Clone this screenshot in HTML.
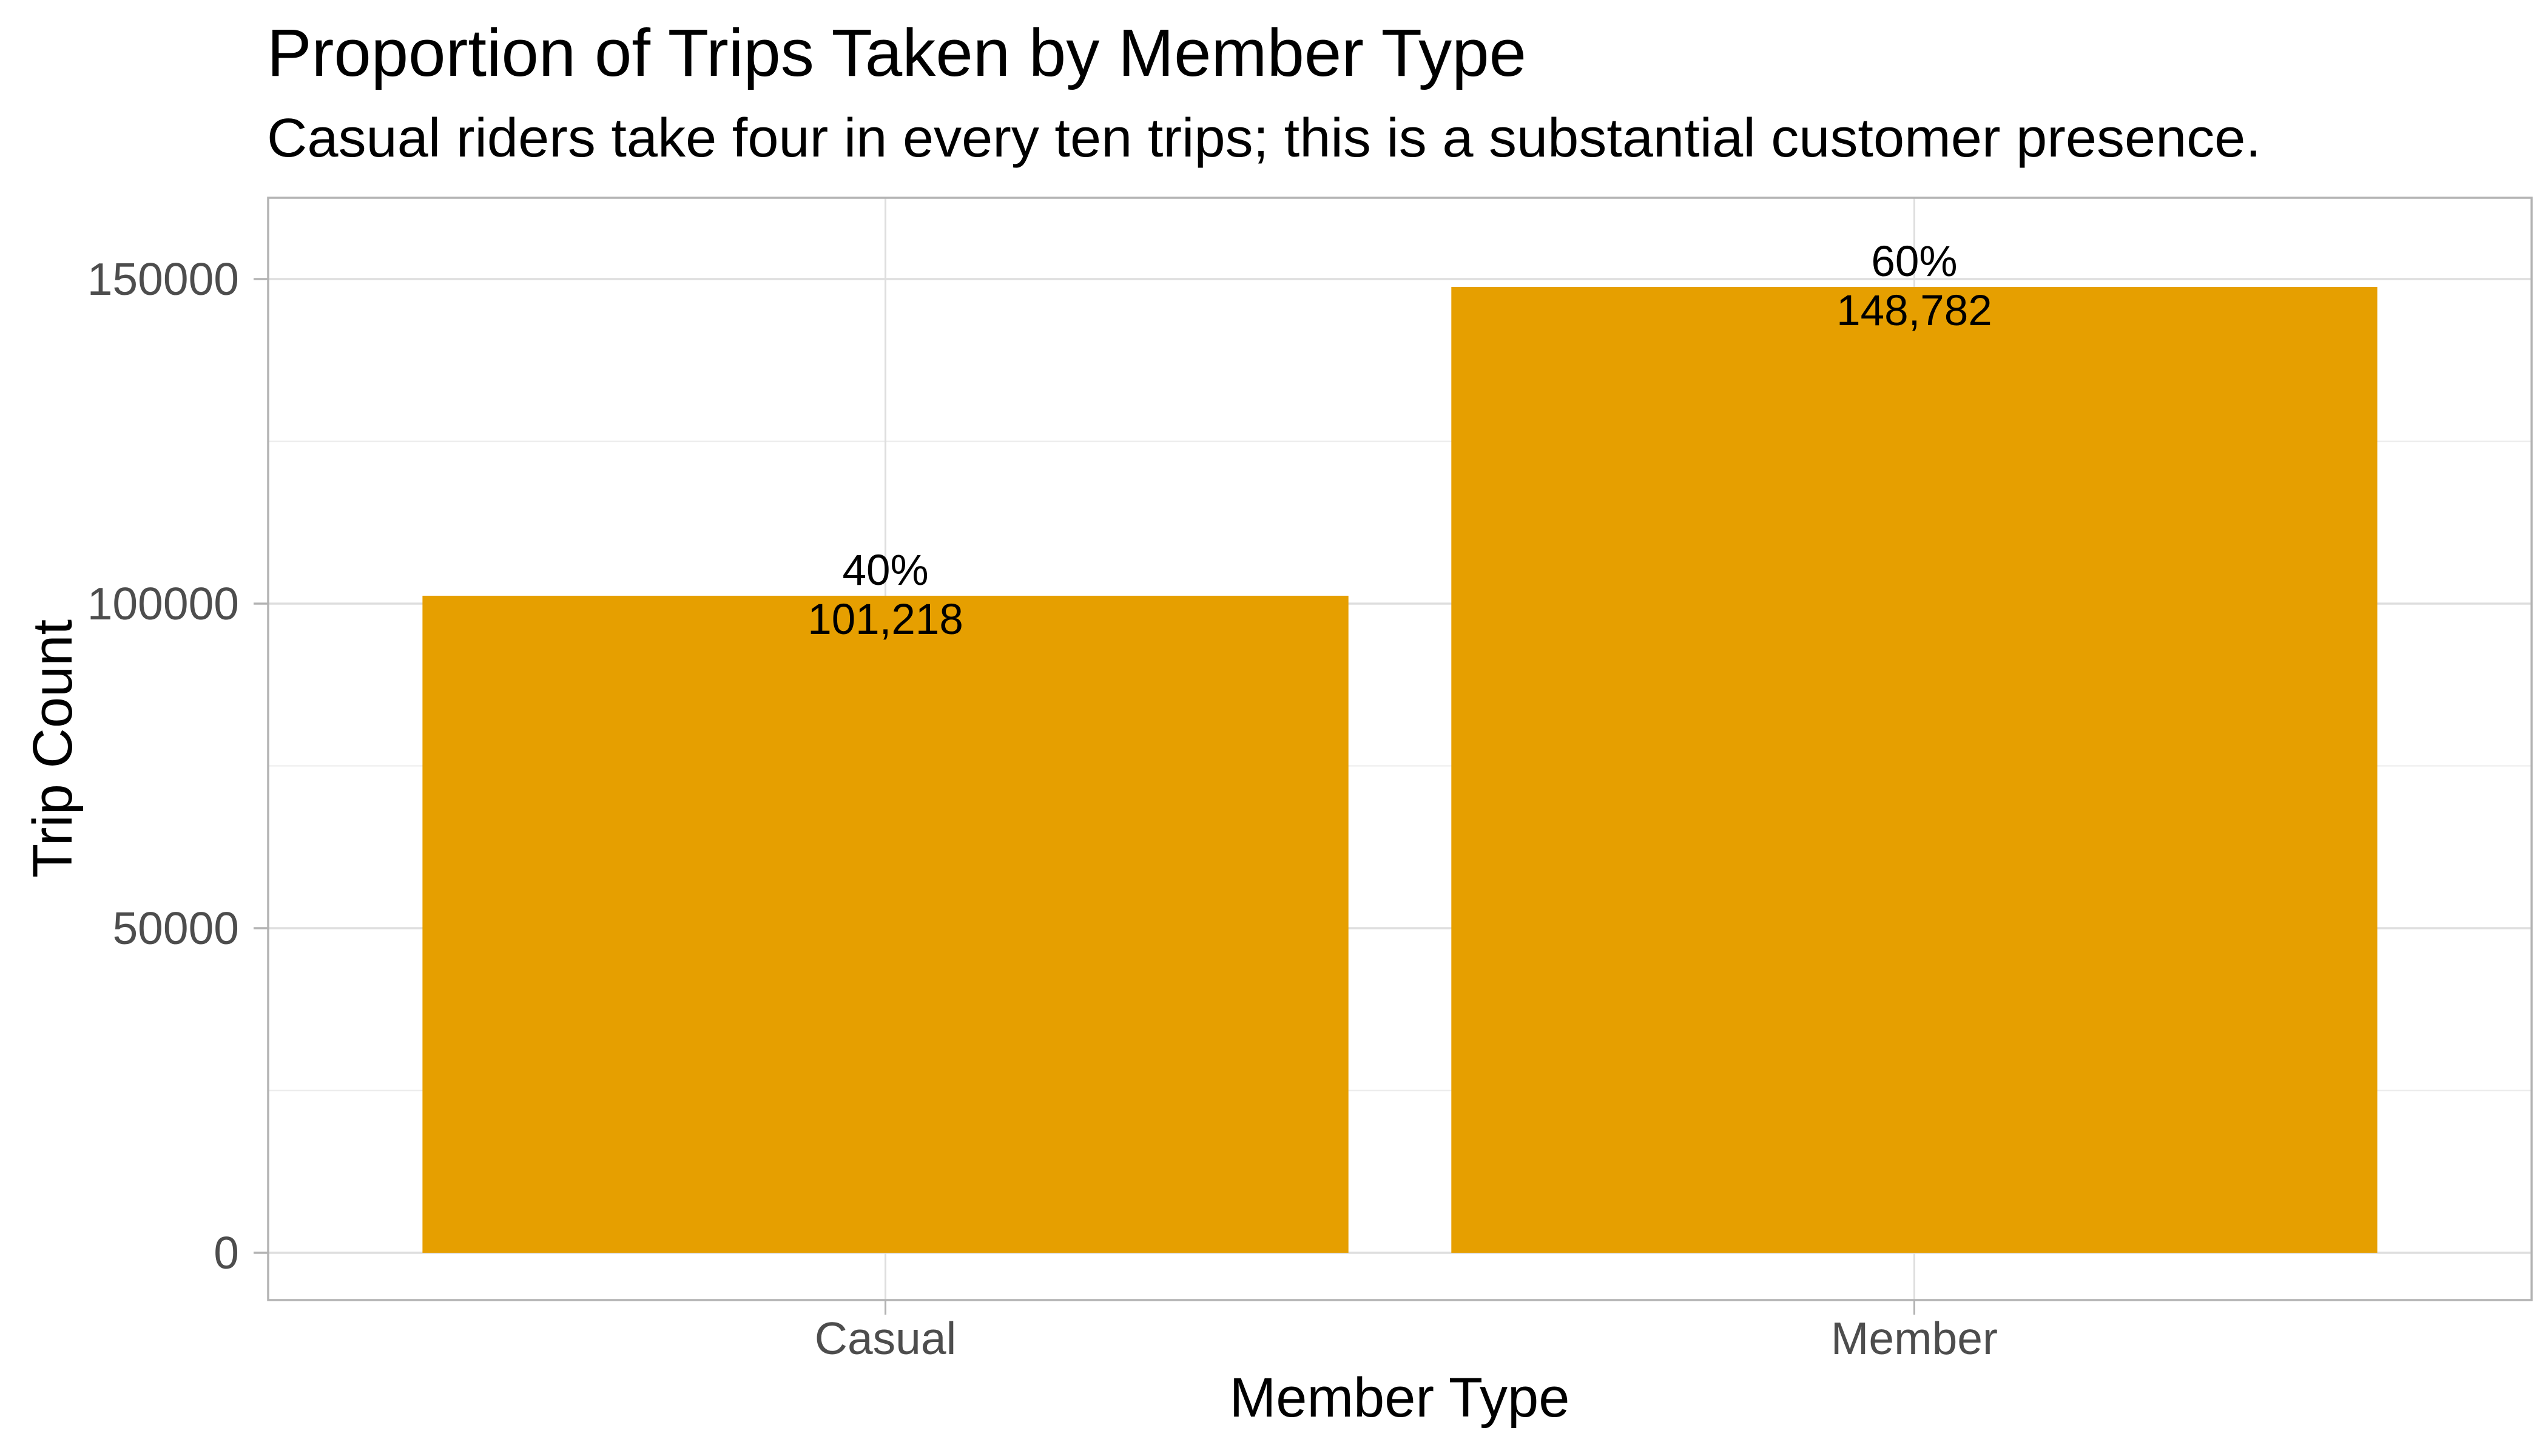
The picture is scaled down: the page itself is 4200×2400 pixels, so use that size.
<!DOCTYPE html>
<html>
<head>
<meta charset="utf-8">
<style>
html,body{margin:0;padding:0;background:#fff;}
svg{display:block;font-family:"Liberation Sans",Arial,sans-serif;}
</style>
</head>
<body>
<svg id="chart" width="4200" height="2400" viewBox="0 0 4200 2400" xmlns="http://www.w3.org/2000/svg">
  <rect x="0" y="0" width="4200" height="2400" fill="#fff"/>
  <text x="440" y="125" font-size="110" fill="#000" textLength="2076" lengthAdjust="spacingAndGlyphs">Proportion of Trips Taken by Member Type</text>
  <text x="440" y="258" font-size="90" fill="#000" textLength="3287" lengthAdjust="spacingAndGlyphs">Casual riders take four in every ten trips; this is a substantial customer presence.</text>
  <g id="grid"></g>
  <g id="bars"></g>
  <g id="labels"></g>
  <rect x="442" y="326" width="3731" height="1817" fill="none" stroke="#b3b3b3" stroke-width="3.5"/>
  <g id="axes"></g>
  <text x="2307" y="2335" font-size="92" text-anchor="middle" fill="#000">Member Type</text>
  <text x="0" y="0" font-size="92" text-anchor="middle" fill="#000" transform="translate(118,1234) rotate(-90)">Trip Count</text>
</svg>
<script>
const categories = ["Casual", "Member"];
const tripCounts = [101218, 148782];
const percentLabels = ["40%", "60%"];
const countLabels = ["101,218", "148,782"];
const yTicks = [0, 50000, 100000, 150000];
const yTickLabels = ["0", "50000", "100000", "150000"];
const yMinorTicks = [25000, 75000, 125000];

const NS = "http://www.w3.org/2000/svg";
const panel = {left: 442, right: 4173, top: 326, bottom: 2143};
const y0px = 2065, yMaxPx = 460, yMaxVal = 150000;
function yScale(v){ return y0px - (v / yMaxVal) * (y0px - yMaxPx); }
const step = (panel.right - panel.left) / (categories.length + 0.2);
function xScale(i){ return panel.left + step * (0.6 + i); }
const barW = step * 0.9;

function mk(tag, attrs, parent){
  const el = document.createElementNS(NS, tag);
  for (const k in attrs) el.setAttribute(k, attrs[k]);
  parent.appendChild(el);
  return el;
}
const grid = document.getElementById('grid');
const bars = document.getElementById('bars');
const labels = document.getElementById('labels');
const axes = document.getElementById('axes');

yMinorTicks.forEach(v => {
  const l = mk('line', {x1: panel.left, x2: panel.right, y1: yScale(v), y2: yScale(v), stroke: '#ebebeb', 'stroke-width': 2}, grid);
  
  
});
yTicks.forEach((v, i) => {
  const l = mk('line', {x1: panel.left, x2: panel.right, y1: yScale(v), y2: yScale(v), stroke: '#dedede', 'stroke-width': 3.5}, grid);
  
  
  const t = mk('line', {x1: 418, x2: panel.left, y1: yScale(v), y2: yScale(v), stroke: '#b3b3b3', 'stroke-width': 3.5}, axes);
  
  
  const tx = mk('text', {x: 394, y: yScale(v) + 26, 'font-size': 75, 'text-anchor': 'end', fill: '#4d4d4d'}, axes);
  tx.textContent = yTickLabels[i];
  
  
});
categories.forEach((c, i) => {
  const cx = xScale(i);
  const g = mk('line', {x1: cx, x2: cx, y1: panel.top, y2: panel.bottom, stroke: '#dedede', 'stroke-width': 3}, grid);
  
  
  const top = yScale(tripCounts[i]);
  const b = mk('rect', {x: cx - barW / 2, y: top, width: barW, height: y0px - top, fill: '#E69F00'}, bars);
  
  
  const p = mk('text', {x: cx, y: top - 18, 'font-size': 71, 'text-anchor': 'middle', fill: '#000'}, labels);
  p.textContent = percentLabels[i];
  
  
  const n = mk('text', {x: cx, y: top + 63, 'font-size': 71, 'text-anchor': 'middle', fill: '#000'}, labels);
  n.textContent = countLabels[i];
  
  
  const t = mk('line', {x1: cx, x2: cx, y1: panel.bottom, y2: 2167, stroke: '#b3b3b3', 'stroke-width': 3}, axes);
  
  
  const tx = mk('text', {x: cx, y: 2232, 'font-size': 75, 'text-anchor': 'middle', fill: '#4d4d4d'}, axes);
  tx.textContent = c;
  
  
});
</script>
</body>
</html>
